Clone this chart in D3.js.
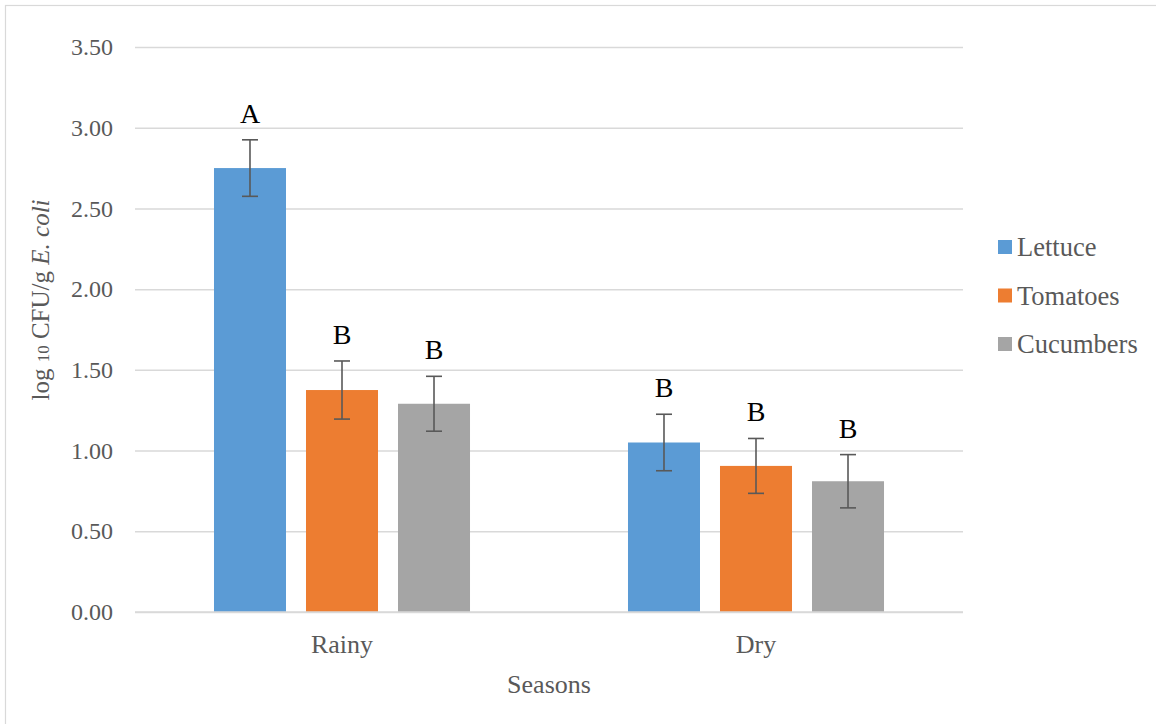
<!DOCTYPE html>
<html>
<head>
<meta charset="utf-8">
<script src="https://cdn.jsdelivr.net/npm/d3@7"></script>
<style>
  html, body { margin: 0; padding: 0; background: #fff; }
  svg { display: block; }
  svg text { font-family: "Liberation Serif", "Times New Roman", serif; }
</style>
</head>
<body>
<svg id="chart" width="1156" height="724"></svg>
<script>
// Seasonal E. coli counts on produce (log10 CFU/g), mean ± error
const seasons = ["Rainy", "Dry"];
const produce = ["Lettuce", "Tomatoes", "Cucumbers"];
const lettuce = [2.75, 1.05];
const tomatoes = [1.375, 0.905];
const cucumbers = [1.29, 0.81];
const lettuceErr = [0.175, 0.175];
const tomatoesErr = [0.18, 0.17];
const cucumbersErr = [0.17, 0.165];
const lettuceGroup = ["A", "B"];
const tomatoesGroup = ["B", "B"];
const cucumbersGroup = ["B", "B"];
const yTicks = [0, 0.5, 1, 1.5, 2, 2.5, 3, 3.5];

const colors = { Lettuce: "#5B9BD5", Tomatoes: "#ED7D31", Cucumbers: "#A5A5A5" };
const values = { Lettuce: lettuce, Tomatoes: tomatoes, Cucumbers: cucumbers };
const errors = { Lettuce: lettuceErr, Tomatoes: tomatoesErr, Cucumbers: cucumbersErr };
const groups = { Lettuce: lettuceGroup, Tomatoes: tomatoesGroup, Cucumbers: cucumbersGroup };

const rows = [];
seasons.forEach((s, i) => produce.forEach(p => rows.push({
  season: s, item: p, value: values[p][i], err: errors[p][i], group: groups[p][i]
})));

const FONT = "Liberation Serif";
const svg = d3.select("#chart");
const plot = { left: 135, right: 963, top: 47, bottom: 612 };

// outer frame
svg.append("rect")
  .attr("x", 5.5).attr("y", 5.5)
  .attr("width", 1160).attr("height", 730)
  .attr("fill", "none").attr("stroke", "#D9D9D9").attr("stroke-width", 1.2);

const y = d3.scaleLinear().domain([0, 3.5]).range([plot.bottom, plot.top]);
const x0 = d3.scaleBand().domain(seasons).range([plot.left, plot.right])
  .paddingInner(0.3816).paddingOuter(0.1908);
const x1 = d3.scaleBand().domain(produce).range([0, x0.bandwidth()])
  .paddingInner(20 / 92).paddingOuter(0);

// gridlines + y tick labels
const yAxis = d3.axisLeft(y).tickValues(yTicks).tickFormat(d3.format(".2f"))
  .tickSize(-(plot.right - plot.left)).tickPadding(22);
const gy = svg.append("g").attr("transform", `translate(${plot.left},0)`).call(yAxis)
  .attr("font-family", FONT).attr("font-size", 24);
gy.select(".domain").remove();
gy.selectAll(".tick line").attr("stroke", "#D9D9D9").attr("stroke-width", 1.5);
gy.selectAll(".tick text").attr("fill", "#595959");

// category labels
const xAxis = d3.axisBottom(x0).tickSize(0).tickPadding(0);
const gx = svg.append("g").attr("transform", `translate(0,${plot.bottom})`).call(xAxis)
  .attr("font-family", FONT).attr("font-size", 26);
gx.select(".domain").remove();
gx.selectAll(".tick text").attr("fill", "#595959").attr("dy", null).attr("y", 41);

// bars
const bars = svg.append("g");
bars.selectAll("rect").data(rows).join("rect")
  .attr("x", d => x0(d.season) + x1(d.item))
  .attr("width", x1.bandwidth())
  .attr("y", d => y(d.value))
  .attr("height", d => y(0) - y(d.value))
  .attr("fill", d => colors[d.item]);

// baseline
svg.append("line")
  .attr("x1", plot.left).attr("x2", plot.right)
  .attr("y1", y(0)).attr("y2", y(0))
  .attr("stroke", "#D9D9D9").attr("stroke-width", 1.5);

// error bars
const eb = svg.append("g").attr("stroke", "#595959").attr("stroke-width", 1.6).attr("fill", "none");
rows.forEach(d => {
  const cx = x0(d.season) + x1(d.item) + x1.bandwidth() / 2;
  const hi = y(d.value + d.err), lo = y(d.value - d.err);
  eb.append("line").attr("x1", cx).attr("x2", cx).attr("y1", hi).attr("y2", lo);
  eb.append("line").attr("x1", cx - 8).attr("x2", cx + 8).attr("y1", hi).attr("y2", hi);
  eb.append("line").attr("x1", cx - 8).attr("x2", cx + 8).attr("y1", lo).attr("y2", lo);
});

// significance letters
svg.append("g").selectAll("text").data(rows).join("text")
  .attr("x", d => x0(d.season) + x1(d.item) + x1.bandwidth() / 2)
  .attr("y", d => y(d.value + d.err) - 17)
  .attr("text-anchor", "middle")
  .attr("fill", "#000")
  .attr("font-family", FONT)
  .attr("font-size", 28)
  .text(d => d.group);

// y axis title
const yt = svg.append("text")
  .attr("transform", "translate(49,300) rotate(-90)")
  .attr("text-anchor", "middle")
  .attr("fill", "#595959")
  .attr("font-family", FONT)
  .attr("font-size", 25);
yt.append("tspan").text("log ");
yt.append("tspan").attr("font-size", 17).text("10");
yt.append("tspan").text(" CFU/g ");
yt.append("tspan").attr("font-style", "italic").text("E. coli");

// x axis title
svg.append("text")
  .attr("x", (plot.left + plot.right) / 2).attr("y", 693)
  .attr("text-anchor", "middle").attr("fill", "#595959")
  .attr("font-family", FONT)
  .attr("font-size", 26)
  .text("Seasons");

// legend
const lg = svg.append("g").attr("transform", "translate(998,240)");
produce.forEach((p, i) => {
  const row = lg.append("g").attr("transform", `translate(0,${i * 48.5})`);
  row.append("rect").attr("width", 14).attr("height", 14).attr("fill", colors[p]);
  row.append("text").attr("x", 19).attr("y", 16)
    .attr("fill", "#595959").attr("font-family", FONT).attr("font-size", 26.5).text(p);
});
</script>
</body>
</html>
